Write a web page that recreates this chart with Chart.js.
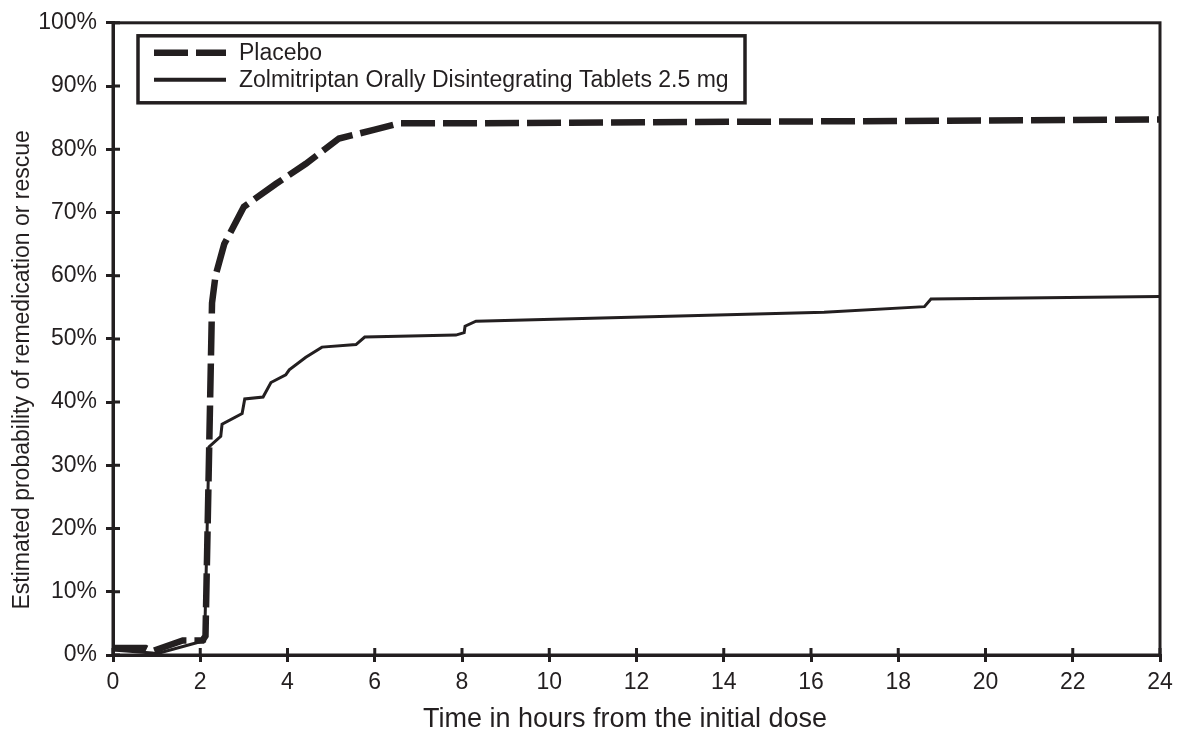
<!DOCTYPE html>
<html>
<head>
<meta charset="utf-8">
<script src="https://cdn.jsdelivr.net/npm/chart.js@4.4.1/dist/chart.umd.min.js"></script>
<style>
  html, body { margin: 0; padding: 0; background: #fff; }
  #wrap { width: 1189px; height: 739px; position: relative; }
</style>
</head>
<body>
<div id="wrap"><canvas id="km"></canvas></div>
<script>
// Kaplan-Meier style curves
const placeboHours = [0, 0.75, 0.9, 1.6, 2.05, 2.12, 2.27, 2.35, 2.55, 3.0, 3.73, 4.42, 5.18, 6.0, 6.56, 8.0, 16, 24];
const placeboPct   = [1.1, 1.1, 0.6, 2.3, 2.3, 3.0, 55.7, 60.0, 65.0, 70.9, 74.5, 77.7, 81.7, 83.1, 84.1, 84.1, 84.4, 84.7];

const zolmiHours = [0, 0.9, 1.0, 2.0, 2.1, 2.2, 2.47, 2.5, 2.96, 3.02, 3.44, 3.62, 3.96, 4.04, 4.42, 4.79, 5.57, 5.77, 7.86, 8.05, 8.07, 8.32, 16.3, 18.6, 18.75, 24];
const zolmiPct   = [0.8, 0.3, 0.2, 2.1, 2.2, 32.9, 34.6, 36.5, 38.2, 40.5, 40.8, 43.1, 44.3, 45.1, 47.1, 48.7, 49.1, 50.3, 50.6, 51.0, 52.0, 52.8, 54.2, 55.1, 56.3, 56.7];

const seriesLabels = ['Placebo', 'Zolmitriptan Orally Disintegrating Tablets 2.5 mg'];
const xTicks = [0, 2, 4, 6, 8, 10, 12, 14, 16, 18, 20, 22, 24];
const yTicks = [0, 10, 20, 30, 40, 50, 60, 70, 80, 90, 100];
const xTitle = 'Time in hours from the initial dose';
const yTitle = 'Estimated probability of remedication or rescue';

const INK = '#231f20';
const FONT = "'Liberation Sans', Arial, sans-serif";

const toPoints = (xs, ys) => xs.map((h, i) => ({ x: h, y: ys[i] }));

// frame, inner tick halves, axis titles and the boxed legend
const frameAndLegend = {
  id: 'frameAndLegend',
  afterDraw(chart) {
    const { ctx, chartArea: a, scales: { x, y } } = chart;
    ctx.save();
    ctx.strokeStyle = INK;
    ctx.lineWidth = 3;
    ctx.strokeRect(a.left, a.top, a.right - a.left, a.bottom - a.top);

    ctx.beginPath();
    xTicks.forEach(v => {
      const px = x.getPixelForValue(v);
      ctx.moveTo(px, a.bottom);
      ctx.lineTo(px, a.bottom - 7);
    });
    yTicks.forEach(v => {
      const py = y.getPixelForValue(v);
      ctx.moveTo(a.left, py);
      ctx.lineTo(a.left + 7, py);
    });
    ctx.stroke();

    // axis titles
    ctx.fillStyle = INK;
    ctx.textAlign = 'center';
    ctx.textBaseline = 'middle';
    ctx.font = '27px ' + FONT;
    ctx.fillText(xTitle, a.left + 512, a.bottom + 65);
    ctx.save();
    ctx.translate(23, a.top + 347);
    ctx.rotate(-Math.PI / 2);
    ctx.font = '23px ' + FONT;
    ctx.fillText(yTitle, 0, 0);
    ctx.restore();

    // legend box
    const bx = a.left + 25, by = a.top + 13, bw = 607, bh = 67;
    ctx.lineWidth = 3.5;
    ctx.strokeRect(bx, by, bw, bh);

    const rows = [by + 17, by + 44];
    const ds = chart.data.datasets;
    ds.forEach((d, i) => {
      ctx.beginPath();
      ctx.lineWidth = i === 0 ? d.borderWidth : 4;
      ctx.setLineDash(i === 0 ? [34, 8] : []);
      ctx.moveTo(bx + 16, rows[i]);
      ctx.lineTo(bx + 88, rows[i]);
      ctx.stroke();
    });
    ctx.setLineDash([]);
    ctx.textAlign = 'left';
    ctx.font = '23px ' + FONT;
    ds.forEach((d, i) => ctx.fillText(d.label, bx + 101, rows[i] + 1));
    ctx.restore();
  }
};

new Chart(document.getElementById('km'), {
  type: 'line',
  data: {
    datasets: [
      {
        label: seriesLabels[0],
        data: toPoints(placeboHours, placeboPct),
        borderColor: INK,
        borderWidth: 6.5,
        borderDash: [34, 8],
        pointRadius: 0,
        tension: 0,
        fill: false
      },
      {
        label: seriesLabels[1],
        data: toPoints(zolmiHours, zolmiPct),
        borderColor: INK,
        borderWidth: 3,
        pointRadius: 0,
        tension: 0,
        fill: false
      }
    ]
  },
  options: {
    responsive: true,
    maintainAspectRatio: false,
    animation: false,
    events: [],
    layout: { padding: { top: 20, right: 29, left: 0, bottom: 0 } },
    plugins: { legend: { display: false }, tooltip: { enabled: false } },
    scales: {
      x: {
        type: 'linear',
        min: 0,
        max: 24,
        afterFit: s => { s.height = 84; },
        afterBuildTicks: s => { s.ticks = xTicks.map(v => ({ value: v })); },
        border: { color: INK, width: 3 },
        grid: { drawOnChartArea: false, drawTicks: true, tickLength: 7, color: INK, lineWidth: 3 },
        ticks: { color: INK, font: { family: FONT, size: 23 }, padding: 7, maxRotation: 0 },
        title: { display: false }
      },
      y: {
        type: 'linear',
        min: 0,
        max: 100,
        afterFit: s => { s.width = 113; },
        afterBuildTicks: s => { s.ticks = yTicks.map(v => ({ value: v })); },
        border: { color: INK, width: 3 },
        grid: { drawOnChartArea: false, drawTicks: true, tickLength: 7, color: INK, lineWidth: 3 },
        ticks: { color: INK, font: { family: FONT, size: 23 }, padding: 9, callback: v => v + '%' },
        title: { display: false }
      }
    }
  },
  plugins: [frameAndLegend]
});
</script>
</body>
</html>
